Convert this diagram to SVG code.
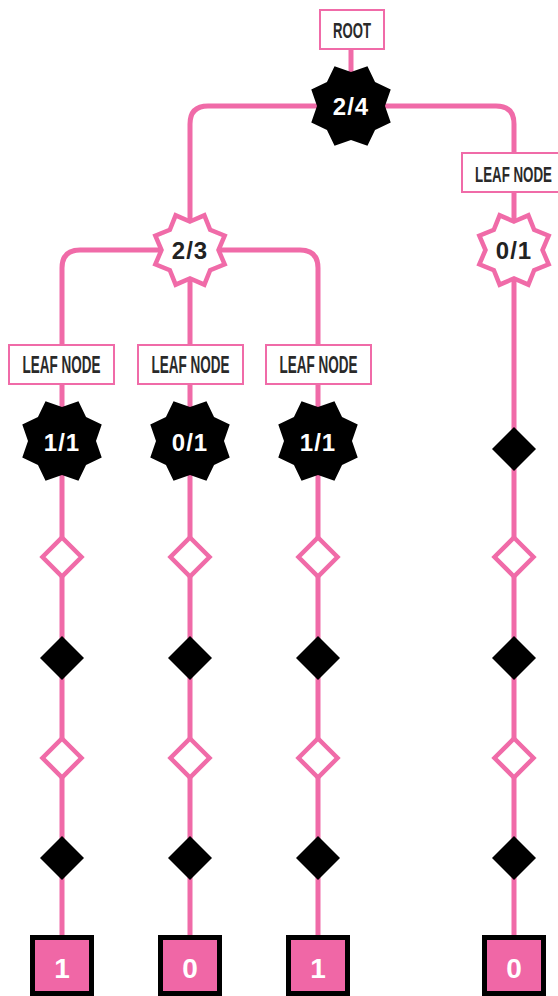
<svg xmlns="http://www.w3.org/2000/svg" width="558" height="996" viewBox="0 0 558 996">
<style>
.wire{fill:none;stroke:#F06BA8;stroke-width:5}
.lbl{fill:#fff;stroke:#F06BA8;stroke-width:2}
.lt{font-family:"Liberation Sans",Arial,sans-serif;font-weight:bold;fill:#2a2a2a;text-anchor:middle}
.st{font-family:"Liberation Sans",Arial,sans-serif;font-weight:bold;font-size:24px;text-anchor:middle;letter-spacing:1px}
.sq{fill:#F067A6;stroke:#000;stroke-width:5}
.sqt{font-family:"Liberation Sans",Arial,sans-serif;font-weight:bold;font-size:28px;fill:#fff;text-anchor:middle}
</style>
<defs>
<path id="bstar" fill="#000" d="M0,-34 L16.46,-39.73 L24.04,-24.04 L39.73,-16.46 L34,0 L39.73,16.46 L24.04,24.04 L16.46,39.73 L0,34 L-16.46,39.73 L-24.04,24.04 L-39.73,16.46 L-34,0 L-39.73,-16.46 L-24.04,-24.04 L-16.46,-39.73 Z"/>
<path id="pstar" fill="#fff" stroke="#F06BA8" stroke-width="4.5" d="M0,-28.5 L14.35,-34.65 L20.15,-20.15 L34.65,-14.35 L28.5,0 L34.65,14.35 L20.15,20.15 L14.35,34.65 L0,28.5 L-14.35,34.65 L-20.15,20.15 L-34.65,14.35 L-28.5,0 L-34.65,-14.35 L-20.15,-20.15 L-14.35,-34.65 Z"/>
<path id="bdia" fill="#000" d="M0,-22 L22,0 L0,22 L-22,0 Z"/>
<path id="pdia" fill="#fff" stroke="#F06BA8" stroke-width="4.5" d="M0,-19.5 L19.5,0 L0,19.5 L-19.5,0 Z"/>
</defs>
<g id="connectors">
<path class="wire" d="M351,49 V106"/>
<path class="wire" d="M190,935 V124 Q190,106 208,106 H496 Q514,106 514,124 V935"/>
<path class="wire" d="M62,935 V268 Q62,250 80,250 H300 Q318,250 318,268 V935"/>
</g>
<g id="root-label"><rect class="lbl" x="320" y="10" width="64" height="39"/><text class="lt" x="352" y="38" font-size="22" textLength="38" lengthAdjust="spacingAndGlyphs">ROOT</text></g>
<g id="root"><use href="#bstar" x="351" y="106"/><text class="st" x="351" y="115" fill="#fff">2/4</text></g>
<g id="n23"><use href="#pstar" x="190" y="250"/><text class="st" x="190" y="259" fill="#222">2/3</text></g>
<g id="leaf-label-4"><rect class="lbl" x="462" y="153" width="104" height="39"/><text class="lt" x="513.5" y="181.5" font-size="22" textLength="77" lengthAdjust="spacingAndGlyphs">LEAF NODE</text></g>
<g id="n01r"><use href="#pstar" x="514" y="250"/><text class="st" x="514" y="259" fill="#222">0/1</text></g>
<g id="leaf-label-1"><rect class="lbl" x="9" y="345" width="105" height="39"/><text class="lt" x="61.5" y="373" font-size="23" textLength="78" lengthAdjust="spacingAndGlyphs">LEAF NODE</text></g>
<g id="leaf-label-2"><rect class="lbl" x="138" y="345" width="105" height="39"/><text class="lt" x="190.5" y="373" font-size="23" textLength="78" lengthAdjust="spacingAndGlyphs">LEAF NODE</text></g>
<g id="leaf-label-3"><rect class="lbl" x="266" y="345" width="105" height="39"/><text class="lt" x="318.5" y="373" font-size="23" textLength="78" lengthAdjust="spacingAndGlyphs">LEAF NODE</text></g>
<g id="leaf1"><use href="#bstar" x="62" y="441"/><text class="st" x="62" y="451" fill="#fff">1/1</text></g>
<g id="leaf2"><use href="#bstar" x="190" y="441"/><text class="st" x="190" y="451" fill="#fff">0/1</text></g>
<g id="leaf3"><use href="#bstar" x="318" y="441"/><text class="st" x="318" y="451" fill="#fff">1/1</text></g>
<g id="d-r0"><use href="#bdia" x="514" y="449"/></g>
<g id="d-1a"><use href="#pdia" x="62" y="557"/></g>
<g id="d-2a"><use href="#pdia" x="190" y="557"/></g>
<g id="d-3a"><use href="#pdia" x="318" y="557"/></g>
<g id="d-4a"><use href="#pdia" x="514" y="557"/></g>
<g id="d-1b"><use href="#bdia" x="62" y="658"/></g>
<g id="d-2b"><use href="#bdia" x="190" y="658"/></g>
<g id="d-3b"><use href="#bdia" x="318" y="658"/></g>
<g id="d-4b"><use href="#bdia" x="514" y="658"/></g>
<g id="d-1c"><use href="#pdia" x="62" y="758"/></g>
<g id="d-2c"><use href="#pdia" x="190" y="758"/></g>
<g id="d-3c"><use href="#pdia" x="318" y="758"/></g>
<g id="d-4c"><use href="#pdia" x="514" y="758"/></g>
<g id="d-1d"><use href="#bdia" x="62" y="858"/></g>
<g id="d-2d"><use href="#bdia" x="190" y="858"/></g>
<g id="d-3d"><use href="#bdia" x="318" y="858"/></g>
<g id="d-4d"><use href="#bdia" x="514" y="858"/></g>
<g id="out1"><rect class="sq" x="32.5" y="937.5" width="59" height="56"/><text class="sqt" x="62" y="978">1</text></g>
<g id="out2"><rect class="sq" x="160.5" y="937.5" width="59" height="56"/><text class="sqt" x="190" y="978">0</text></g>
<g id="out3"><rect class="sq" x="288.5" y="937.5" width="59" height="56"/><text class="sqt" x="318" y="978">1</text></g>
<g id="out4"><rect class="sq" x="484.5" y="937.5" width="59" height="56"/><text class="sqt" x="514" y="978">0</text></g>
</svg>
